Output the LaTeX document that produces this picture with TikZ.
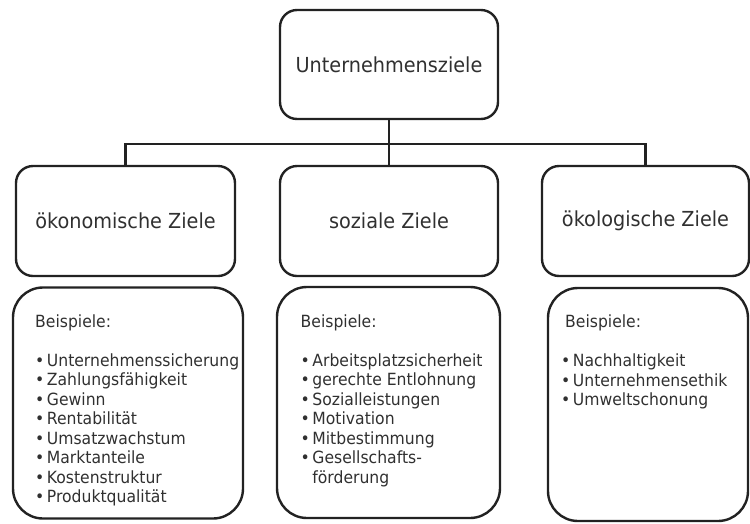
\documentclass[tikz,border=0pt]{standalone}
\usepackage{fontspec}
\setmainfont{DejaVu Sans}[FakeStretch=0.93]
\usepackage{xcolor}
\definecolor{textgray}{HTML}{303030}
\definecolor{linegray}{HTML}{222222}
\newcommand{\punkt}{\textbullet\hspace{2.5pt}}

\begin{document}
\begin{tikzpicture}[x=1pt, y=-1pt,
    ziel/.style={draw=linegray, line width=2.4pt, rounded corners=17pt, minimum width=#1, minimum height=110pt, inner sep=0pt, text=textgray, font=\fontsize{20.7}{24}\selectfont},
    liste/.style={draw=linegray, line width=2.4pt, rounded corners=30pt, minimum width=#1, minimum height=231pt, inner sep=0pt},
    listtext/.style={anchor=north west, inner sep=0pt, align=left, text=textgray, font=\fontsize{16.8}{19.5}\selectfont},
    connector/.style={draw=linegray, line width=2.4pt}]

    \useasboundingbox (0,0) rectangle (750,523);

    % Goal boxes
    \node[ziel=218pt, minimum height=109pt] (unternehmen) at (389,64.5) {Unternehmensziele};
    \node[ziel=219pt] (oekonom) at (125.5,221) {ökonomische Ziele};
    \node[ziel=218pt] (sozial) at (389,221) {soziale Ziele};
    \node[ziel=207pt] (oekolog) at (645.5,221) {ökologische Ziele};

    % Example boxes
    \node[liste=230pt] (bspOekonom) at (128,403) {};
    \node[liste=223pt] (bspSozial) at (388.5,402.5) {};
    \node[liste=200pt, minimum height=233pt] (bspOekolog) at (648,404.5) {};

    % Example lists
    \node[listtext] (txtOekonom) at (35,314.2) {Beispiele:\\[19.5pt]
        \punkt Unternehmenssicherung\\
        \punkt Zahlungsfähigkeit\\
        \punkt Gewinn\\
        \punkt Rentabilität\\
        \punkt Umsatzwachstum\\
        \punkt Marktanteile\\
        \punkt Kostenstruktur\\
        \punkt Produktqualität};
    \node[listtext] (txtSozial) at (300.5,314.2) {Beispiele:\\[19.5pt]
        \punkt Arbeitsplatzsicherheit\\
        \punkt gerechte Entlohnung\\
        \punkt Sozialleistungen\\
        \punkt Motivation\\
        \punkt Mitbestimmung\\
        \punkt Gesellschafts-\\
        \hphantom{\punkt}förderung};
    \node[listtext] (txtOekolog) at (561,315) {\hspace*{4pt}Beispiele:\\[19.5pt]
        \punkt Nachhaltigkeit\\
        \punkt Unternehmensethik\\
        \punkt Umweltschonung};

    % Connectors
    \coordinate (verteiler) at (389,144);
    \draw[connector] (unternehmen.south) -- (sozial.north);
    \draw[connector] (oekonom.north) |- (verteiler) -| (oekolog.north);

\end{tikzpicture}
\end{document}
